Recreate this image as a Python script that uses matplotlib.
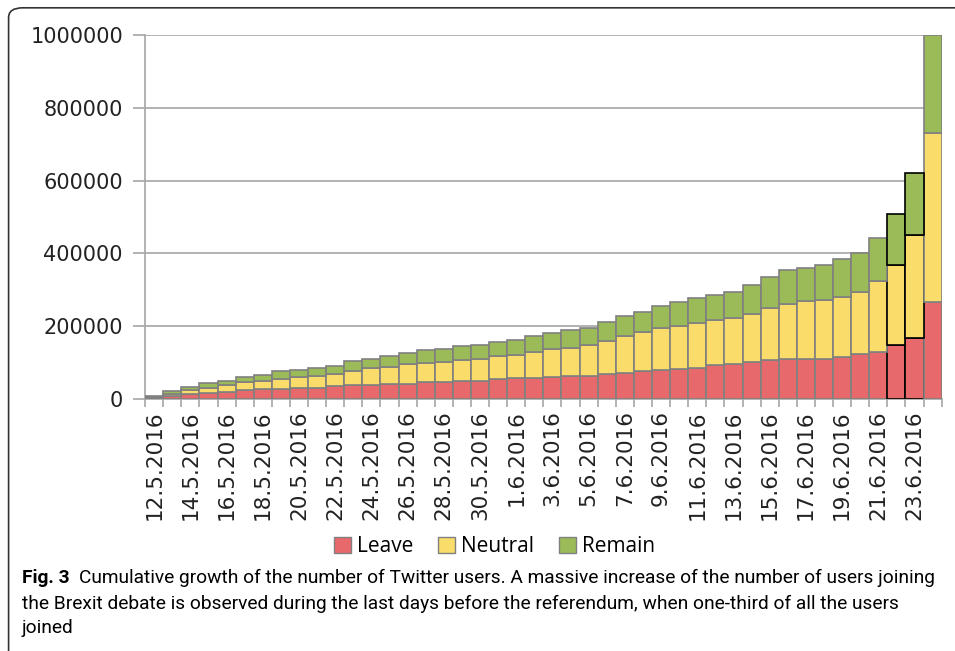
import numpy as np
import matplotlib.pyplot as plt
from matplotlib.patches import Patch, FancyBboxPatch

# Data (cumulative users per day)
dates = ['12.5.2016', '13.5.2016', '14.5.2016', '15.5.2016', '16.5.2016', '17.5.2016',
         '18.5.2016', '19.5.2016', '20.5.2016', '21.5.2016', '22.5.2016', '23.5.2016',
         '24.5.2016', '25.5.2016', '26.5.2016', '27.5.2016', '28.5.2016', '29.5.2016',
         '30.5.2016', '31.5.2016', '1.6.2016', '2.6.2016', '3.6.2016', '4.6.2016',
         '5.6.2016', '6.6.2016', '7.6.2016', '8.6.2016', '9.6.2016', '10.6.2016',
         '11.6.2016', '12.6.2016', '13.6.2016', '14.6.2016', '15.6.2016', '16.6.2016',
         '17.6.2016', '18.6.2016', '19.6.2016', '20.6.2016', '21.6.2016', '22.6.2016',
         '23.6.2016', '24.6.2016']
leave = [3000, 9000, 14600, 16000, 19000, 23700, 27400, 27400, 31000, 31000, 34700, 38300,
         39000, 42000, 42000, 45600, 45600, 50000, 50000, 53900, 56600, 58400, 61200, 64000,
         64000, 68500, 72000, 75800, 79400, 82500, 85800, 93000, 97600, 101500, 107700, 111400,
         111400, 111400, 114300, 122600, 130000, 148000, 166600, 266500]
neutral = [2500, 4000, 10100, 15000, 18400, 22800, 22600, 28300, 28300, 32000, 34700, 39300,
           46800, 46600, 54000, 53900, 57400, 56800, 60500, 63900, 65400, 71200, 75800, 76600,
           84000, 91300, 101500, 108600, 116000, 119000, 123200, 123000, 125400, 132500, 141300, 148600,
           157500, 160400, 166700, 170400, 195000, 221000, 283400, 465200]
remain = [2500, 8000, 7300, 12000, 12600, 13500, 16600, 21000, 19200, 22800, 22800, 26400,
          25200, 30100, 30000, 34500, 34900, 38200, 38300, 38200, 41000, 44400, 44700, 48400,
          48000, 52000, 55500, 55600, 59300, 64500, 68000, 68600, 72500, 80000, 86000, 93400,
          91900, 97200, 103000, 109000, 118000, 140000, 172000, 268300]

leave = np.array(leave)
neutral = np.array(neutral)
remain = np.array(remain)
x = np.arange(len(dates))

c_leave = '#e8696b'
c_neutral = '#f9dc6a'
c_remain = '#9bbb59'
grid_c = '#a6a6a6'

plt.rcParams['font.family'] = ['DejaVu Sans']

fig = plt.figure(figsize=(9.55, 6.51), dpi=100)
ax = fig.add_axes([0.152, 0.387, 0.834, 0.559])

# edge colours: black outline for the two bars before the result
edges = ['#808080'] * len(dates)
edges[41] = 'black'
edges[42] = 'black'
fc_leave = [c_leave] * len(dates)
fc_neutral = [c_neutral] * len(dates)
fc_remain = [c_remain] * len(dates)
fc_leave[0] = fc_neutral[0] = fc_remain[0] = '#7f7f7f'

ax.bar(x, leave, width=1.0, color=fc_leave, edgecolor=edges, linewidth=1.2, zorder=3)
ax.bar(x, neutral, width=1.0, bottom=leave, color=fc_neutral, edgecolor=edges, linewidth=1.2, zorder=3)
ax.bar(x, remain, width=1.0, bottom=leave + neutral, color=fc_remain, edgecolor=edges, linewidth=1.2, zorder=3)

ax.set_xlim(-0.5, len(dates) - 0.5)
ax.set_ylim(0, 1000000)
ax.set_yticks(np.arange(0, 1000001, 200000))
ax.set_yticklabels([str(v) for v in range(0, 1000001, 200000)], fontsize=15, color='#222222')
ax.yaxis.grid(True, color=grid_c, linewidth=1.2, zorder=0)
ax.tick_params(axis='y', length=9, color=grid_c, width=1.2, pad=7)

ax.set_xticks(x[::2])
ax.set_xticklabels(dates[::2], rotation=90, fontsize=15.5, color='#222222')
ax.set_xticks(np.arange(-0.5, len(dates), 1), minor=True)
ax.tick_params(axis='x', which='major', length=0, pad=8)
ax.tick_params(axis='x', which='minor', length=6, color=grid_c, width=1.2)

for s in ['top', 'right']:
    ax.spines[s].set_visible(False)
ax.spines['left'].set_color(grid_c)
ax.spines['bottom'].set_color(grid_c)
ax.spines['left'].set_linewidth(1.2)
ax.spines['bottom'].set_linewidth(1.2)

handles = [Patch(facecolor=c_leave, edgecolor='#808080', label='Leave'),
           Patch(facecolor=c_neutral, edgecolor='#808080', label='Neutral'),
           Patch(facecolor=c_remain, edgecolor='#808080', label='Remain')]
fig.legend(handles=handles, loc='center', bbox_to_anchor=(0.518, 0.16), ncol=3, frameon=False,
           prop={'family': 'Open Sans', 'size': 15},
           handlelength=0.8, handleheight=0.8, handletextpad=0.3, columnspacing=1.2)

# caption
cap = {'family': 'Roboto', 'size': 13.8}
fig.text(0.023, 0.112, 'Fig. 3', fontdict=cap, fontweight='bold', va='center')
fig.text(0.083, 0.112, 'Cumulative growth of the number of Twitter users. A massive increase of the number of users joining',
         fontdict=cap, va='center')
fig.text(0.023, 0.073, 'the Brexit debate is observed during the last days before the referendum, when one-third of all the users',
         fontdict=cap, va='center')
fig.text(0.023, 0.035, 'joined', fontdict=cap, va='center')

# rounded frame round the figure block
frame = FancyBboxPatch((0.009, -0.1), 1.2, 1.088, boxstyle='round,pad=0,rounding_size=0.015',
                       transform=fig.transFigure, fill=False, edgecolor='#333333', linewidth=1.2,
                       clip_on=False)
fig.patches.append(frame)

fig.savefig('out.png', dpi=100)
